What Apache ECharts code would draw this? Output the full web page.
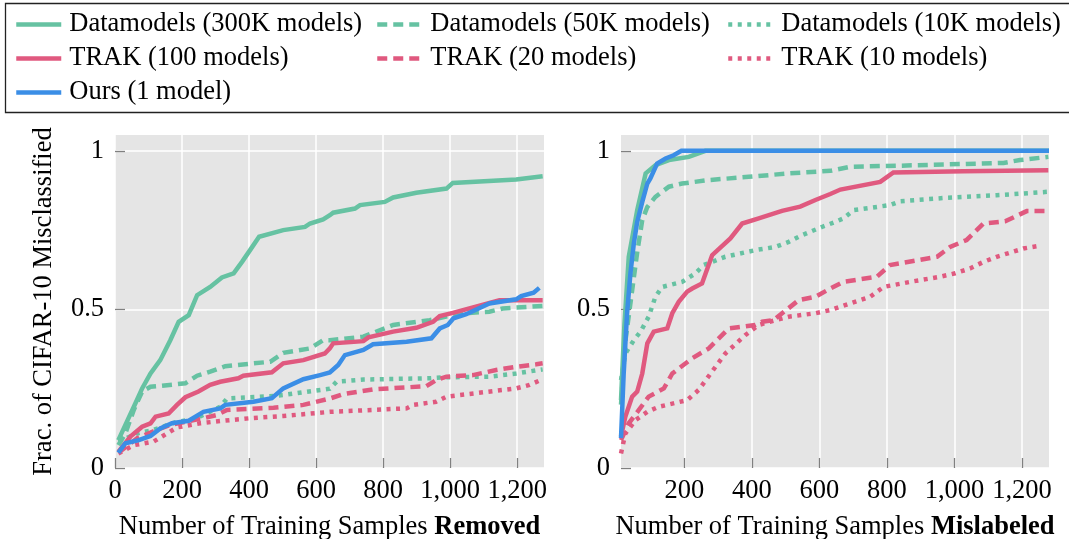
<!DOCTYPE html>
<html><head><meta charset="utf-8">
<script src="https://cdn.jsdelivr.net/npm/echarts@6/dist/echarts.min.js"></script>
<style>html,body{margin:0;padding:0;background:#fff}#c{width:1069px;height:539px}</style>
</head><body><div id="c"></div>
<script>
// ---------- data ----------
const seriesNames = ['Datamodels (300K models)','Datamodels (50K models)','Datamodels (10K models)','TRAK (100 models)','TRAK (20 models)','TRAK (10 models)','Ours (1 model)'];
const xTicksLeft = [0,200,400,600,800,1000,1200];
const xTicksRight = [200,400,600,800,1000,1200];
const yTicks = [0,0.5,1];
const xLabelLeft = 'Number of Training Samples ';
const xLabelLeftBold = 'Removed';
const xLabelRightBold = 'Mislabeled';
const yLabel = 'Frac. of CIFAR-10 Misclassified';

// Left panel: removed
const L_dm300_x = [10,31,61,81,106,135,165,190,220,245,284,319,354,379,403,430,502,567,582,621,641,651,716,731,805,830,899,989,1008,1197,1276];
const L_dm300_y = [0.088,0.136,0.204,0.251,0.298,0.340,0.403,0.461,0.482,0.545,0.571,0.601,0.614,0.650,0.687,0.729,0.750,0.760,0.771,0.784,0.797,0.805,0.818,0.829,0.839,0.853,0.868,0.881,0.899,0.910,0.920];
const L_dm50_x = [10,31,56,81,106,210,245,284,329,463,502,582,621,641,741,830,939,1028,1117,1157,1276];
const L_dm50_y = [0.072,0.109,0.183,0.241,0.256,0.267,0.291,0.304,0.321,0.335,0.363,0.377,0.403,0.403,0.414,0.451,0.466,0.487,0.493,0.503,0.511];
const L_dm10_x = [10,66,115,185,235,314,334,473,502,562,641,661,741,939,980,1117,1197,1276];
const L_dm10_y = [0.083,0.109,0.120,0.146,0.153,0.193,0.219,0.227,0.230,0.239,0.250,0.272,0.279,0.283,0.286,0.288,0.298,0.311];
const L_tr100_x = [10,46,81,106,121,160,185,210,249,284,314,368,383,468,502,562,626,641,651,741,756,830,899,949,969,1008,1147,1276];
const L_tr100_y = [0.051,0.099,0.130,0.141,0.162,0.172,0.199,0.223,0.241,0.262,0.272,0.283,0.291,0.302,0.330,0.340,0.361,0.377,0.393,0.400,0.412,0.430,0.442,0.461,0.479,0.489,0.529,0.529];
const L_tr20_x = [10,66,106,165,264,304,334,473,562,641,681,770,929,958,989,1068,1137,1197,1257,1276];
const L_tr20_y = [0.048,0.094,0.112,0.136,0.157,0.167,0.183,0.190,0.199,0.219,0.233,0.248,0.258,0.277,0.288,0.293,0.309,0.319,0.327,0.330];
const L_tr10_x = [10,56,115,185,254,314,403,502,641,870,889,958,989,1197,1237,1276];
const L_tr10_y = [0.046,0.072,0.083,0.128,0.141,0.148,0.157,0.164,0.177,0.188,0.199,0.209,0.225,0.251,0.262,0.280];
const L_ours_x = [10,31,71,106,135,170,220,264,314,329,413,468,502,562,612,641,666,686,741,770,870,944,969,993,1010,1048,1117,1197,1212,1249,1266];
const L_ours_y = [0.048,0.078,0.088,0.101,0.125,0.141,0.149,0.177,0.188,0.199,0.209,0.220,0.251,0.280,0.293,0.301,0.325,0.356,0.372,0.390,0.398,0.409,0.440,0.451,0.472,0.485,0.519,0.532,0.542,0.553,0.568];

// Right panel: mislabeled
const R_dm300_x = [12,22,35,60,85,114,154,213,262,1280];
const R_dm300_y = [0.214,0.45,0.666,0.813,0.929,0.955,0.971,0.981,1.0,1.0];
const R_dm50_x = [12,25,45,60,75,90,114,154,193,272,390,509,632,691,829,1076,1145,1194,1278];
const R_dm50_y = [0.20,0.40,0.56,0.68,0.782,0.823,0.855,0.887,0.897,0.908,0.918,0.929,0.937,0.950,0.953,0.960,0.962,0.971,0.981];
const R_dm10_x = [12,25,50,70,94,114,134,193,233,257,321,410,469,509,548,607,647,671,701,809,839,977,1125,1278];
const R_dm10_y = [0.277,0.361,0.403,0.430,0.477,0.540,0.571,0.587,0.614,0.640,0.666,0.687,0.697,0.713,0.734,0.760,0.776,0.787,0.813,0.829,0.841,0.852,0.860,0.871];
const R_tr100_x = [12,25,45,60,75,90,109,149,164,183,208,223,252,282,336,371,420,489,543,588,632,662,780,819,1026,1278];
const R_tr100_y = [0.099,0.162,0.225,0.241,0.298,0.393,0.430,0.440,0.488,0.524,0.556,0.566,0.582,0.671,0.724,0.771,0.787,0.811,0.824,0.845,0.864,0.878,0.902,0.932,0.936,0.939];
const R_tr20_x = [12,35,65,94,139,164,223,272,331,410,430,464,538,588,632,671,770,809,948,987,1036,1086,1150,1214,1278];
const R_tr20_y = [0.088,0.141,0.183,0.225,0.251,0.298,0.346,0.377,0.440,0.451,0.461,0.466,0.529,0.540,0.566,0.587,0.603,0.640,0.666,0.697,0.719,0.771,0.778,0.810,0.810];
const R_tr10_x = [12,25,55,90,124,208,242,292,321,380,420,469,509,588,632,750,790,869,957,1002,1046,1086,1125,1204,1248];
const R_tr10_y = [0.046,0.109,0.151,0.177,0.193,0.214,0.246,0.319,0.361,0.419,0.451,0.466,0.477,0.488,0.498,0.540,0.571,0.587,0.603,0.614,0.629,0.650,0.666,0.692,0.700];
const R_ours_x = [12,20,30,40,50,60,75,90,99,119,144,168,191,1280];
const R_ours_y = [0.094,0.298,0.488,0.614,0.708,0.776,0.839,0.897,0.913,0.960,0.976,0.986,1.0,1.0];

// ---------- styling ----------
const FONT = "'Liberation Serif', 'Times New Roman', serif";
const FS = 26.5;
const GREEN = '#66c2a2', PINK = '#e0597f', BLUE = '#3b8ee6';
const LW = 4.5;
const DASH = [10, 6], DOT = [4, 5.5];
const styles = [
  [GREEN,'solid'],[GREEN,DASH],[GREEN,DOT],
  [PINK,'solid'],[PINK,DASH],[PINK,DOT],
  [BLUE,'solid']
];
const leftData = [[L_dm300_x,L_dm300_y],[L_dm50_x,L_dm50_y],[L_dm10_x,L_dm10_y],[L_tr100_x,L_tr100_y],[L_tr20_x,L_tr20_y],[L_tr10_x,L_tr10_y],[L_ours_x,L_ours_y]];
const rightData = [[R_dm300_x,R_dm300_y],[R_dm50_x,R_dm50_y],[R_dm10_x,R_dm10_y],[R_tr100_x,R_tr100_y],[R_tr20_x,R_tr20_y],[R_tr10_x,R_tr10_y],[R_ours_x,R_ours_y]];

const TXT = { fontFamily: FONT, fontSize: FS, color: '#000' };
const RICH = { t: Object.assign({}, TXT), b: Object.assign({ fontWeight: 'bold' }, TXT) };

function fmt(v){ v = Math.round(v); return v >= 1000 ? Math.floor(v/1000)+','+String(v%1000).padStart(3,'0') : String(v); }

const series = [];
[leftData, rightData].forEach((panel, gi) => {
  panel.forEach((d, i) => {
    series.push({
      name: seriesNames[i], type: 'line', xAxisIndex: gi, yAxisIndex: gi,
      data: d[0].map((x, k) => [x, d[1][k]]),
      showSymbol: false, symbol: 'none', animation: false, silent: true,
      lineStyle: { color: styles[i][0], width: LW, type: styles[i][1], cap: 'butt', join: 'miter' },
      itemStyle: { color: styles[i][0] },
      z: 2 + i
    });
  });
});

function xAxis(gi, min, ticks, bold){
  return {
    type: 'value', gridIndex: gi, min: min, max: 1280,
    axisLine: { show: false },
    axisTick: { show: true, inside: true, length: 10, lineStyle: { color: '#808080', width: 1.3 }, customValues: ticks },
    axisLabel: Object.assign({ margin: 10, formatter: fmt, customValues: ticks, alignMinLabel: 'center', alignMaxLabel: 'center' }, TXT),
    splitLine: { show: true, lineStyle: { color: '#ffffff', width: 1.5 } },
    name: '{t|' + xLabelLeft + '}{b|' + bold + '}', nameLocation: 'middle', nameGap: 46, nameMoveOverlap: false,
    nameTextStyle: Object.assign({ rich: RICH }, TXT)
  };
}
function yAxis(gi, withName){
  const a = {
    type: 'value', gridIndex: gi, min: 0, max: 1.05,
    axisLine: { show: false },
    axisTick: { show: true, inside: true, length: 10, lineStyle: { color: '#808080', width: 1.3 }, customValues: yTicks },
    axisLabel: Object.assign({ margin: 11, verticalAlign: 'middle', verticalAlignMinLabel: 'middle', verticalAlignMaxLabel: 'middle', customValues: yTicks, formatter: v => String(v) }, TXT),
    splitLine: { show: true, lineStyle: { color: '#ffffff', width: 1.5 } }
  };
  if (withName) {
    a.name = yLabel; a.nameLocation = 'middle'; a.nameGap = 57; a.nameMoveOverlap = false;
    a.nameTextStyle = Object.assign({}, TXT);
  }
  return a;
}

const legendBase = {
  orient: 'vertical', top: 6, itemWidth: 45, itemHeight: 26, itemGap: 7,
  selectedMode: false,
  itemStyle: { opacity: 0, color: 'rgba(0,0,0,0)', borderWidth: 0 },
  lineStyle: { width: LW },
  textStyle: Object.assign({ lineHeight: 26, padding: [0,0,0,3] }, TXT)
};

const option = {
  backgroundColor: '#fff',
  animation: false,
  textStyle: { fontFamily: FONT },
  grid: [
    { left: 115, top: 135, width: 429, height: 333, show: true, backgroundColor: '#e5e5e5', borderWidth: 0, containLabel: false, outerBoundsMode: 'none' },
    { left: 621, top: 135, width: 428, height: 333, show: true, backgroundColor: '#e5e5e5', borderWidth: 0, containLabel: false, outerBoundsMode: 'none' }
  ],
  xAxis: [ xAxis(0, 0, xTicksLeft, xLabelLeftBold), xAxis(1, 12, xTicksRight, xLabelRightBold) ],
  yAxis: [ yAxis(0, true), yAxis(1, false) ],
  legend: [
    Object.assign({}, legendBase, { left: 9, data: [seriesNames[0], seriesNames[3], seriesNames[6]] }),
    Object.assign({}, legendBase, { left: 370, data: [seriesNames[1], seriesNames[4]] }),
    Object.assign({}, legendBase, { left: 721, data: [seriesNames[2], seriesNames[5]] })
  ],
  graphic: [
    { type: 'rect', left: 3, top: 1, shape: { x: 0, y: 0, width: 1120, height: 109 }, style: { fill: 'none', stroke: '#222', lineWidth: 1.3 }, silent: true, z: -1 }
  ],
  series: series
};

const chart = echarts.init(document.getElementById('c'), null, { renderer: 'canvas' });
chart.setOption(option);
</script></body></html>
